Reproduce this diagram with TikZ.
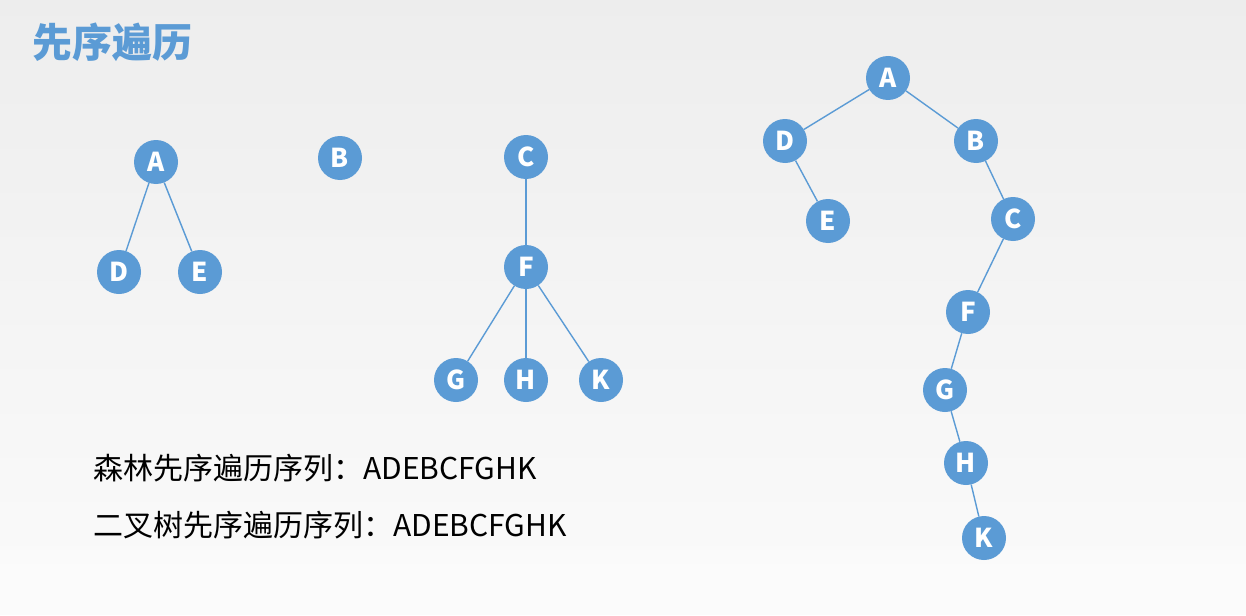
\documentclass[tikz,border=0pt]{standalone}
\usepackage{fontspec}
\setmainfont{Noto Sans CJK SC}
\definecolor{nodeblue}{HTML}{5B9BD5}
\tikzset{treenode/.style={circle, fill=nodeblue, minimum size=44pt, inner sep=0pt,
           text=white, font=\fontsize{26}{26}\selectfont\bfseries},
         treeedge/.style={nodeblue, line width=1.4pt}}

\begin{document}
\begin{tikzpicture}[x=1pt,y=-1pt]

% background
\useasboundingbox (0,0) rectangle (1246,615);
\fill[white!98.5!black] (0,563) rectangle (1246,615);
\shade[top color=white!93!black, bottom color=white!98!black] (0,0) rectangle (1246,563);

% title
\node[anchor=west, text=nodeblue, font=\fontsize{40}{40}\selectfont\bfseries] (title) at (29,42) {先序遍历};

% forest: first tree
\node[treenode] (a1) at (156,162) {A};
\node[treenode] (d1) at (119,272) {D};
\node[treenode] (e1) at (200,272) {E};
\draw[treeedge] (a1) -- (d1);
\draw[treeedge] (a1) -- (e1);

% forest: second tree
\node[treenode] (b1) at (340,158) {B};

% forest: third tree
\node[treenode] (c1) at (526,157) {C};
\node[treenode] (f1) at (526,267) {F};
\node[treenode] (g1) at (456,380) {G};
\node[treenode] (h1) at (526,380) {H};
\node[treenode] (k1) at (601,380) {K};
\draw[treeedge] (c1) -- (f1);
\draw[treeedge] (f1) -- (g1);
\draw[treeedge] (f1) -- (h1);
\draw[treeedge] (f1) -- (k1);

% binary tree
\node[treenode] (a2) at (888,78) {A};
\node[treenode] (d2) at (785,141) {D};
\node[treenode] (b2) at (976,141) {B};
\node[treenode] (e2) at (828,221) {E};
\node[treenode] (c2) at (1013,219) {C};
\node[treenode] (f2) at (968,312) {F};
\node[treenode] (g2) at (945,390) {G};
\node[treenode] (h2) at (966,463) {H};
\node[treenode] (k2) at (984,538) {K};
\draw[treeedge] (a2) -- (d2);
\draw[treeedge] (a2) -- (b2);
\draw[treeedge] (d2) -- (e2);
\draw[treeedge] (b2) -- (c2);
\draw[treeedge] (c2) -- (f2);
\draw[treeedge] (f2) -- (g2);
\draw[treeedge] (g2) -- (h2);
\draw[treeedge] (h2) -- (k2);

% sequences
\node[anchor=west, inner sep=0pt, font=\fontsize{30}{30}\selectfont] (seq1) at (93,468) {森林先序遍历序列：ADEBCFGHK};
\node[anchor=west, inner sep=0pt, font=\fontsize{30}{30}\selectfont] (seq2) at (93,525) {二叉树先序遍历序列：ADEBCFGHK};

\end{tikzpicture}
\end{document}
